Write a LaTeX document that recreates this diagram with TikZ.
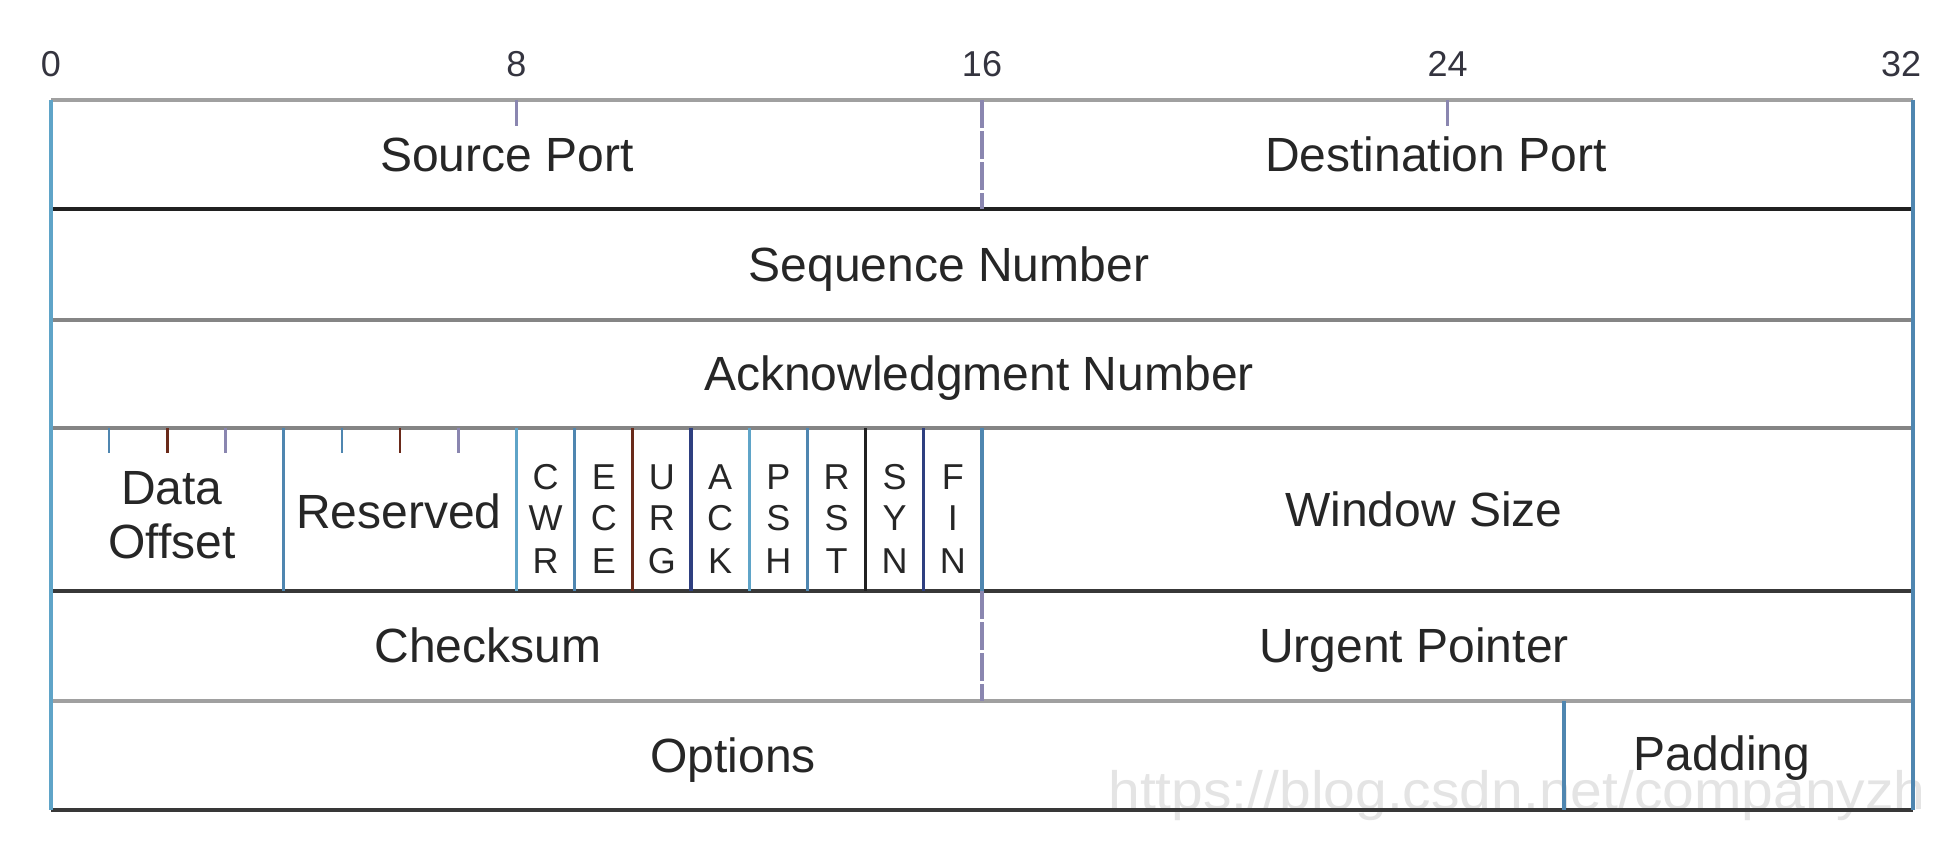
\documentclass[tikz,border=0pt]{standalone}
\usepackage{fontspec}
\setmainfont{Liberation Sans}
\definecolor{txt}{HTML}{262626}
\definecolor{numc}{HTML}{34343F}
\definecolor{hlight}{HTML}{A0A0A0}
\definecolor{hmid}{HTML}{858585}
\definecolor{hdark}{HTML}{383838}
\definecolor{vblue}{HTML}{5FA4C8}
\definecolor{vsteel}{HTML}{4F86B0}
\definecolor{vnavy}{HTML}{2E3F80}
\definecolor{vbrown}{HTML}{6A2A1A}
\definecolor{vblack}{HTML}{202020}
\definecolor{vdash}{HTML}{8A86B0}
\definecolor{wm}{HTML}{E4E4E4}
\newcommand\bx[1]{{51+58.1875*(#1)}}
\begin{document}
\begin{tikzpicture}[x=0.5pt,y=-0.5pt,
  hl/.style={line width=1.9pt},
  vl/.style={line width=1.6pt},
  tk/.style={line width=1.2pt},
  lbl/.style={font=\fontsize{24}{28}\selectfont, text=txt, inner sep=0pt, anchor=base},
  numlbl/.style={font=\fontsize{18}{20}\selectfont, text=numc, inner sep=0pt, anchor=base},
  flaglbl/.style={font=\fontsize{18}{20}\selectfont, text=txt, inner sep=0pt, anchor=base}]
\useasboundingbox (0,0) rectangle (1952,840);
\fill[white] (0,0) rectangle (1952,840);

% watermark
\node[anchor=base west, inner sep=0pt, text=wm, font=\fontsize{27}{30}\selectfont, xscale=1.055] (wmark) at (1108,809) {https://blog.csdn.net/companyzh};

% bit numbers
\node[numlbl] (n0) at (\bx{0},77) {0};
\node[numlbl] (n8) at (\bx{8},77) {8};
\node[numlbl] (n16) at (\bx{16},77) {16};
\node[numlbl] (n24) at (\bx{24},77) {24};
\node[numlbl] (n32) at (1901,77) {32};

% horizontal lines
\draw[hl, hlight] (\bx{0},100) -- (\bx{32},100);
\draw[hl, vblack] (\bx{0},209) -- (\bx{32},209);
\draw[hl, hmid] (\bx{0},320) -- (\bx{32},320);
\draw[hl, hmid] (\bx{0},428) -- (\bx{32},428);
\draw[hl, hdark] (\bx{0},591) -- (\bx{32},591);
\draw[hl, hlight] (\bx{0},701) -- (\bx{32},701);
\draw[hl, hdark] (\bx{0},810) -- (\bx{32},810);

% outer borders
\draw[vl, vblue] (\bx{0},100) -- (\bx{0},810);
\draw[vl, vsteel] (\bx{32},100) -- (\bx{32},810);

% row 1
\draw[tk, vdash] (\bx{8},100) -- (\bx{8},126);
\draw[tk, vdash] (\bx{24},100) -- (\bx{24},126);
\draw[vl, vdash, dash pattern=on 14pt off 1.5pt] (\bx{16},100) -- (\bx{16},209);
\node[lbl] (srcport) at (507,171) {Source Port};
\node[lbl] (dstport) at (1436,171) {Destination Port};

% rows 2, 3
\node[lbl] (seq) at (949,281) {Sequence Number};
\node[lbl] (ack) at (979,390.5) {Acknowledgment Number};

% row 4: data offset, reserved, flags, window
\foreach \b/\c in {1/vsteel,2/vbrown,3/vdash,5/vsteel,6/vbrown,7/vdash}
  \draw[tk, \c] (\bx{\b},428) -- (\bx{\b},453);
\draw[vl, vsteel] (\bx{4},428) -- (\bx{4},591);
\foreach \b/\c in {8/vblue,9/vsteel,10/vbrown,11/vnavy,12/vblue,13/vsteel,14/vblack,15/vnavy,16/vsteel}
  \draw[vl, \c] (\bx{\b},428) -- (\bx{\b},591);
\node[lbl] (data) at (172,504) {Data};
\node[lbl] (offset) at (172,558) {Offset};
\node[lbl] (reserved) at (399,528) {Reserved};
\foreach \i/\a/\bb/\cc in {0/C/W/R,1/E/C/E,2/U/R/G,3/A/C/K,4/P/S/H,5/R/S/T,6/S/Y/N,7/F/I/N}{
  \node[flaglbl] (fa\i) at (\bx{8.5+\i},489.5) {\a};
  \node[flaglbl] (fb\i) at (\bx{8.5+\i},530.5) {\bb};
  \node[flaglbl] (fc\i) at (\bx{8.5+\i},573.5) {\cc};
}
\node[lbl] (window) at (1424,526) {Window Size};

% row 5
\draw[vl, vdash, dash pattern=on 14pt off 1.5pt] (\bx{16},591) -- (\bx{16},701);
\node[lbl] (checksum) at (488,662.5) {Checksum};
\node[lbl] (urgent) at (1414,662.5) {Urgent Pointer};

% row 6
\draw[vl, vsteel] (\bx{26},701) -- (\bx{26},810);
\node[lbl] (options) at (733,772) {Options};
\node[lbl] (padding) at (1722,770) {Padding};
\end{tikzpicture}
\end{document}
